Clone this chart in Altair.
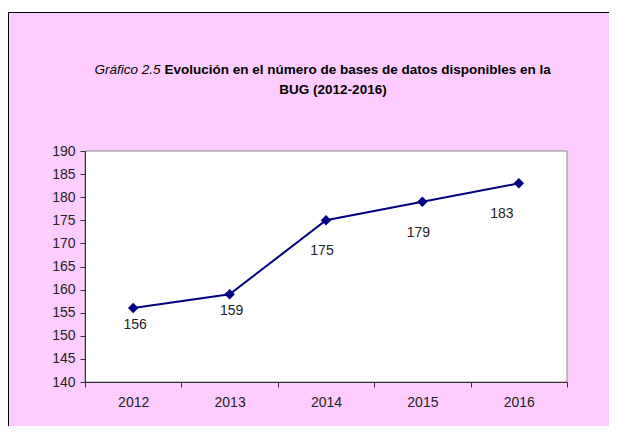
import altair as alt
import pandas as pd

years = ["2012", "2013", "2014", "2015", "2016"]
values = [156, 159, 175, 179, 183]
y_ticks = [140, 145, 150, 155, 160, 165, 170, 175, 180, 185, 190]
title_italic = "Gráfico 2.5"
title_line1 = "Evolución en el número de bases de datos disponibles en la"
title_line2 = "BUG (2012-2016)"

FONT = "Liberation Sans Narrow, Arial Narrow, Liberation Sans, Arial, sans-serif"
W, H = 482, 231
PAD_R, PAD_B = 42, 44
TS = 13.5  # title font size
LS = 14    # label font size

df = pd.DataFrame({"year": years, "value": values})
one = pd.DataFrame({"k": [0]})

x = alt.X("year:N", scale=alt.Scale(type="band", paddingInner=0, paddingOuter=0),
          axis=alt.Axis(title=None, labelAngle=0, tickBand="extent", tickSize=5,
                        labelPadding=8, zindex=1))
y = alt.Y("value:Q", scale=alt.Scale(domain=[140, 190], nice=False, zero=False),
          axis=alt.Axis(title=None, values=y_ticks, tickSize=5, labelPadding=5, zindex=1))

bg = alt.Chart(one).mark_rect(fill="#FFCCFF", strokeWidth=0).encode(
    x=alt.value(-77), x2=alt.value(W + PAD_R), y=alt.value(-139), y2=alt.value(H + PAD_B))
border_top = alt.Chart(one).mark_rule(color="black", strokeWidth=1).encode(
    x=alt.value(-77), x2=alt.value(W + PAD_R), y=alt.value(-138.5))
border_left = alt.Chart(one).mark_rule(color="black", strokeWidth=1).encode(
    x=alt.value(-76.5), y=alt.value(-139), y2=alt.value(H + PAD_B))
plot_bg = alt.Chart(one).mark_rect(fill="white", stroke="#888888", strokeWidth=1).encode(
    x=alt.value(0), x2=alt.value(W), y=alt.value(0), y2=alt.value(H))

t_it = alt.Chart(one).mark_text(font=FONT, fontSize=TS, fontStyle="italic", align="right",
                                baseline="middle", color="black").encode(
    x=alt.value(75.5), y=alt.value(-81), text=alt.value(title_italic))
t_l1 = alt.Chart(one).mark_text(font=FONT, fontSize=TS, fontWeight="bold", align="left",
                                baseline="middle", color="black").encode(
    x=alt.value(79.5), y=alt.value(-81), text=alt.value(title_line1))
t_l2 = alt.Chart(one).mark_text(font=FONT, fontSize=TS, fontWeight="bold", align="center",
                                baseline="middle", color="black").encode(
    x=alt.value(248), y=alt.value(-61), text=alt.value(title_line2))

base = alt.Chart(df).encode(x=x, y=y)
line = base.mark_line(color="#000080", strokeWidth=2)
pts = base.mark_point(shape="diamond", filled=True, size=110, color="#000080", opacity=1)

lab_style = dict(font=FONT, fontSize=LS, color="#222222", baseline="middle")
lab1 = base.mark_text(dy=17, dx=2, **lab_style).encode(text="value:Q").transform_filter(
    alt.FieldOneOfPredicate(field="year", oneOf=["2012", "2013"]))
lab2 = base.mark_text(dy=31, dx=-4, **lab_style).encode(text="value:Q").transform_filter(
    alt.FieldOneOfPredicate(field="year", oneOf=["2014", "2015"]))
lab3 = base.mark_text(dy=31, dx=-17, **lab_style).encode(text="value:Q").transform_filter(
    alt.FieldOneOfPredicate(field="year", oneOf=["2016"]))

chart = alt.layer(bg, border_top, border_left, plot_bg, t_it, t_l1, t_l2,
                  line, pts, lab1, lab2, lab3).properties(
    width=W, height=H, autosize="none",
    padding={"left": 77, "top": 143, "right": PAD_R, "bottom": PAD_B},
).configure(background="white").configure_view(stroke=None).configure_axis(
    labelFont=FONT, labelFontSize=LS, labelColor="#222222",
    domainColor="#333333", tickColor="#333333", grid=False,
)

chart.save("out.html", embed_options={"renderer": "svg", "actions": False})
